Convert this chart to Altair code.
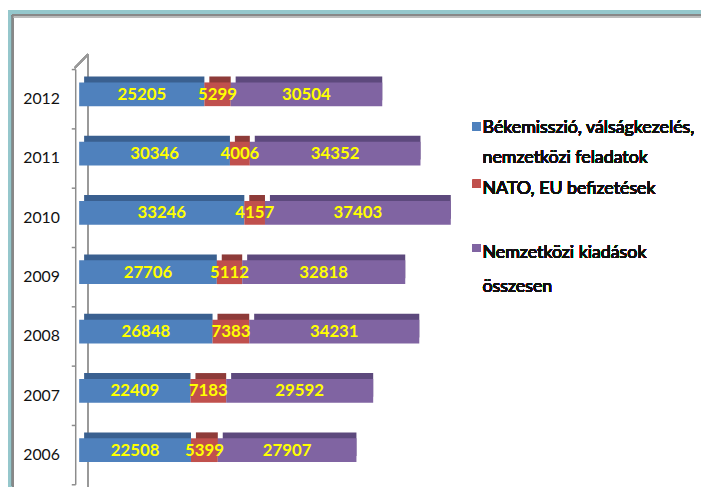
import altair as alt
import pandas as pd

# ---- data ----
years = ["2012", "2011", "2010", "2009", "2008", "2007", "2006"]
bekemisszio = [25205, 30346, 33246, 27706, 26848, 22409, 22508]
nato_eu = [5299, 4006, 4157, 5112, 7383, 7183, 5399]
osszesen = [30504, 34352, 37403, 32818, 34231, 29592, 27907]
series_names = [
    "Békemisszió, válságkezelés, nemzetközi feladatok",
    "NATO, EU befizetések",
    "Nemzetközi kiadások összesen",
]
legend_lines = [
    "Békemisszió, válságkezelés,",
    "nemzetközi feladatok",
    "NATO, EU befizetések",
    "Nemzetközi kiadások",
    "összesen",
]

front_colors = ["#4F81BD", "#C0504D", "#8064A2"]
dark_colors = ["#3A6090", "#8E3B39", "#5D497D"]
FONT = "Lato, Open Sans, sans-serif"

rows = []
for i, y in enumerate(years):
    start = 0
    for k, vals in enumerate([bekemisszio, nato_eu, osszesen]):
        v = vals[i]
        rows.append({"year": y, "series": series_names[k], "order": k,
                     "value": v, "start": start, "end": start + v,
                     "mid": start + v / 2})
        start += v
df = pd.DataFrame(rows)

xs = alt.Scale(domain=[0, 80000], range=[72, 474])
ys = alt.Scale(domain=years, range=[59, 479], paddingInner=0, paddingOuter=0)

yaxis = alt.Axis(title=None, orient="left", offset=-68, tickBand="extent",
                 tickSize=4, labelPadding=12, labelFontSize=16, labelFont=FONT,
                 labelColor="#111111", domainColor="#8c8c8c", tickColor="#8c8c8c",
                 domainWidth=1.5, tickWidth=1.5, grid=False)

base = alt.Chart(df)

depth = base.mark_bar(size=24, xOffset=5, yOffset=-10.5).encode(
    x=alt.X("start:Q", scale=xs, axis=None),
    x2="end:Q",
    y=alt.Y("year:N", scale=ys, sort=years, axis=yaxis),
    color=alt.Color("series:N", scale=alt.Scale(domain=series_names, range=dark_colors), legend=None),
)

front = base.mark_bar(size=24, yOffset=-4.5).encode(
    x=alt.X("start:Q", scale=xs, axis=None),
    x2="end:Q",
    y=alt.Y("year:N", scale=ys, sort=years, axis=yaxis),
    color=alt.Color("series:N", scale=alt.Scale(domain=series_names, range=front_colors), legend=None),
)

labels = base.mark_text(fontSize=17, fontWeight="bold", font=FONT, color="#FFFF00",
                        yOffset=-4, baseline="middle", align="center").encode(
    x=alt.X("mid:Q", scale=xs, axis=None),
    y=alt.Y("year:N", scale=ys, sort=years, axis=yaxis),
    text="value:Q",
)

# decorative 3D wall lines and frame
back_wall = alt.Chart(df).mark_rule(color="#9a9a9a", strokeWidth=1.5).encode(
    x=alt.value(81), y=alt.value(44), y2=alt.value(481))
diag = alt.Chart(df).mark_rule(color="#9a9a9a", strokeWidth=1.5).encode(
    x=alt.value(67.5), y=alt.value(58), x2=alt.value(81), y2=alt.value(44))
frame_l = alt.Chart(df).mark_rule(color="#95C7CC", strokeWidth=4).encode(
    x=alt.value(2), y=alt.value(0), y2=alt.value(481))
frame_t = alt.Chart(df).mark_rule(color="#95C7CC", strokeWidth=4).encode(
    y=alt.value(2), x=alt.value(0), x2=alt.value(701))
gray_l = alt.Chart(df).mark_rule(color="#888888", strokeWidth=2).encode(
    x=alt.value(5), y=alt.value(4), y2=alt.value(481))
gray_t = alt.Chart(df).mark_rule(color="#888888", strokeWidth=2).encode(
    y=alt.value(5), x=alt.value(4), x2=alt.value(701))
gray_t2 = alt.Chart(df).mark_rule(color="#bdbdbd", strokeWidth=1).encode(
    y=alt.value(6.5), x=alt.value(6), x2=alt.value(701))

# manual legend
sq_y = [117, 175, 240]
squares = [
    alt.Chart(df).mark_square(size=64, opacity=1).encode(
        x=alt.value(474), y=alt.value(sq_y[k]), color=alt.value(front_colors[k]))
    for k in range(3)
]
line_y = [124, 154, 185, 250, 284]
texts = [
    alt.Chart(df).mark_text(fontSize=18, font=FONT, color="#111111", align="left",
                            baseline="alphabetic").encode(
        x=alt.value(480), y=alt.value(line_y[j]), text=alt.value(legend_lines[j]))
    for j in range(5)
]

chart = alt.layer(
    frame_l, frame_t, gray_l, gray_t, gray_t2, back_wall, diag,
    depth, front, labels, *squares, *texts
).resolve_scale(color="independent").properties(
    width=701, height=481, padding=0, autosize="none", background="white"
).configure_view(stroke=None)

chart.save("out.html", embed_options={"renderer": "svg", "actions": False})
